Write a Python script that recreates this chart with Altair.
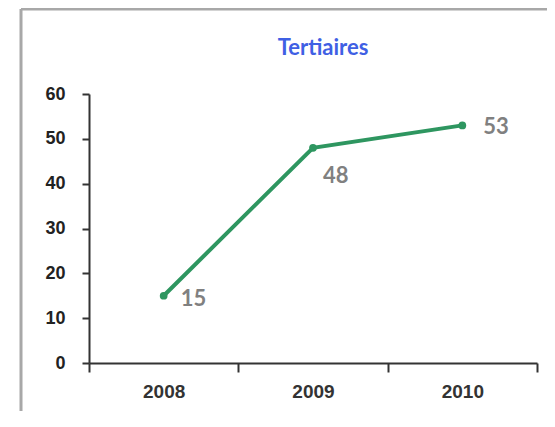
import altair as alt
import pandas as pd

years = ["2008", "2009", "2010"]
values = [15, 48, 53]
labels = ["15", "48", "53"]
y_ticks = [0, 10, 20, 30, 40, 50, 60]
title_text = "Tertiaires"

df = pd.DataFrame({"year": years, "value": values, "label": labels})

W, H = 448, 269
PAD = {"left": 81, "top": 86, "right": 10, "bottom": 48}

x_enc = alt.X("year:O", title=None, sort=years,
              scale=alt.Scale(paddingInner=0, paddingOuter=0),
              axis=alt.Axis(labelAngle=0, tickBand="extent", tickSize=9, labelPadding=10,
                            labelFont="Liberation Sans", labelFontSize=19, labelFontWeight="bold",
                            labelColor="#333333", domainColor="#333333", tickColor="#333333",
                            domainWidth=2, tickWidth=2))
y_enc = alt.Y("value:Q", title=None,
              scale=alt.Scale(domain=[0, 60], nice=False, zero=True),
              axis=alt.Axis(values=y_ticks, grid=False, tickSize=7, labelPadding=17,
                            labelFont="Liberation Sans", labelFontSize=18, labelFontWeight="bold",
                            labelColor="#222222", domainColor="#333333", tickColor="#333333",
                            domainWidth=2, tickWidth=2))

base = alt.Chart(df)
green = "#2e9660"

line = base.mark_line(color=green, strokeWidth=4).encode(x=x_enc, y=y_enc)
pts = base.mark_point(color=green, filled=True, size=60, opacity=1).encode(x=x_enc, y=y_enc)

offsets = {"2008": (17, 3), "2009": (10, 28), "2010": (21, 2)}
texts = []
for yr in years:
    dx, dy = offsets[yr]
    texts.append(
        base.transform_filter(alt.datum.year == yr)
        .mark_text(align="left", baseline="middle", dx=dx, dy=dy, font="Lato",
                   fontSize=22, fontWeight="bold", color="#808080")
        .encode(x=x_enc, y=y_enc, text="label:N")
    )

frame_df = pd.DataFrame({"a": [0]})
top_line = alt.Chart(frame_df).mark_rule(color="#a8a8a8", strokeWidth=3).encode(
    x=alt.value(-68), x2=alt.value(W + 20), y=alt.value(-85))
left_line = alt.Chart(frame_df).mark_rule(color="#a8a8a8", strokeWidth=3).encode(
    x=alt.value(-68), y=alt.value(-85), y2=alt.value(H + 60))

title = alt.Chart(pd.DataFrame({"t": [title_text]})).mark_text(
    font="Lato", fontSize=22, fontWeight="bold", color="#3f60e4",
    align="center", baseline="middle").encode(
    text="t:N", x=alt.value(W / 2 + 10), y=alt.value(-46))

chart = alt.layer(top_line, left_line, title, line, pts, *texts).properties(
    width=W, height=H,
    padding=PAD,
    autosize=alt.AutoSizeParams(type="none"),
    background="white",
).configure_view(stroke=None)

chart.save("out.html", embed_options={"renderer": "svg", "actions": False})
